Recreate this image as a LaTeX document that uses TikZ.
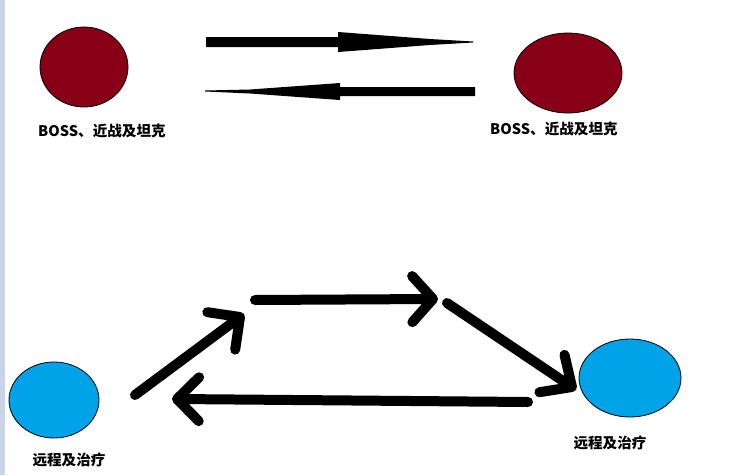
\documentclass[tikz,border=0pt]{standalone}
\usepackage{fontspec}
\newfontfamily\cjk{Noto Sans CJK SC}
\usepackage{tikz}
\usetikzlibrary{shapes.geometric, positioning, calc}
\definecolor{darkred}{RGB}{136,0,21}
\definecolor{turq}{RGB}{0,162,232}
\definecolor{strip}{RGB}{201,213,230}
\tikzstyle{brush} = [line width=10pt, line cap=round, line join=round]

\begin{document}
\begin{tikzpicture}
	[x=1pt, y=-1pt,
	boss/.style={ellipse, draw=black, line width=0.8pt, fill=darkred, inner sep=0pt},
	ranged/.style={ellipse, draw=black, line width=0.8pt, fill=turq, inner sep=0pt},
	tag/.style={font=\cjk\bfseries\fontsize{14.6}{16}\selectfont}]
	\useasboundingbox (0,0) rectangle (734,475);
	\fill[strip] (0,0) rectangle (5,475);

	\node (boss1) [boss, minimum width=88pt, minimum height=80pt] at (84,67) {};
	\node (boss2) [boss, minimum width=108pt, minimum height=80pt] at (568,73) {};
	\node (tag1) [tag] at (102,131) {BOSS、近战及坦克};
	\node (tag2) [tag] at (554,129) {BOSS、近战及坦克};

	\node (ranged1) [ranged, minimum width=90pt, minimum height=76pt] at (54,400) {};
	\node (ranged2) [ranged, minimum width=102pt, minimum height=78pt] at (630,378) {};
	\node (tag3) [tag] at (69,460) {远程及治疗};
	\node (tag4) [tag] at (610,443) {远程及治疗};

	% tapered arrows between the two bosses
	\fill (206,37) -- (338,37) -- (338,32) -- (430,39) -- (473,41.5) -- (473,42.5)
		-- (430,45) -- (338,52) -- (338,47) -- (206,47) -- cycle;
	\fill (475,87) -- (340,87) -- (340,83) -- (250,89.5) -- (205,90.5) -- (205,91.5)
		-- (250,93.5) -- (340,100) -- (340,96) -- (475,96) -- cycle;

	% brush arrows between the ranged groups
	\coordinate (c1) at (135,395);
	\coordinate (c2) at (240,317);
	\coordinate (c3) at (255,300);
	\coordinate (c4) at (433,299);
	\coordinate (c5) at (447,303);
	\coordinate (c6) at (572,387);
	\coordinate (c7) at (528,402);
	\coordinate (c8) at (177,399);

	\draw[brush] (c1) -- (c2) ($(c2)!33pt!45:(c1)$) -- (c2) -- ($(c2)!33pt!-45:(c1)$);
	\draw[brush] (c3) -- (c4) ($(c4)!31pt!48:(c3)$) -- (c4) -- ($(c4)!31pt!-48:(c3)$);
	\draw[brush] (c5) -- (c6) ($(c6)!33pt!43:(c5)$) -- (c6) -- ($(c6)!33pt!-43:(c5)$);
	\draw[brush] (c7) -- (c8) ($(c8)!31pt!45:(c7)$) -- (c8) -- ($(c8)!31pt!-45:(c7)$);
\end{tikzpicture}
\end{document}
